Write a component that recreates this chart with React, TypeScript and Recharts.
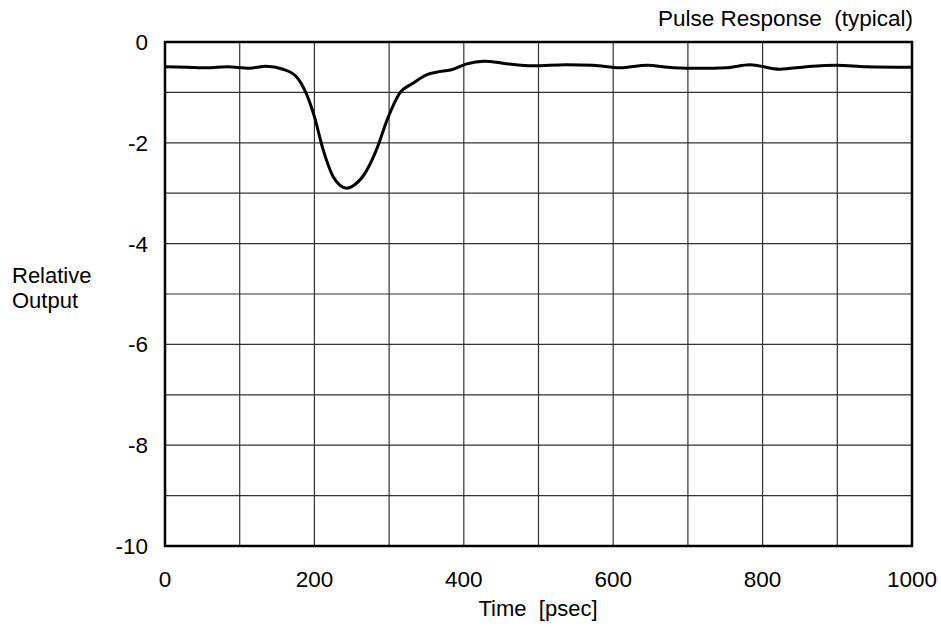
import { LineChart, Line, XAxis, YAxis, CartesianGrid, ReferenceArea } from 'recharts';

const times = [0, 30, 55, 83, 113, 135, 158, 176, 189, 200, 211, 225, 234, 243, 253, 267, 283, 298, 314, 332, 350, 363, 386, 403, 428, 457, 493, 537, 573, 609, 645, 680, 716, 752, 783, 823, 859, 899, 939, 1000];
const output = [-0.49, -0.5, -0.51, -0.49, -0.52, -0.48, -0.54, -0.69, -1.02, -1.48, -2.1, -2.67, -2.84, -2.9, -2.84, -2.62, -2.14, -1.52, -1.02, -0.82, -0.65, -0.6, -0.54, -0.44, -0.38, -0.43, -0.47, -0.45, -0.46, -0.51, -0.46, -0.51, -0.52, -0.51, -0.45, -0.54, -0.49, -0.46, -0.49, -0.5];

const xTicks = [0, 100, 200, 300, 400, 500, 600, 700, 800, 900, 1000];
const yTicks = [0, -1, -2, -3, -4, -5, -6, -7, -8, -9, -10];

const data = times.map((t, i) => ({ t, v: output[i] }));

const font = '"Liberation Sans", Arial, sans-serif';
const textStyle = { position: 'absolute' as const, fontFamily: font, fontSize: 22, color: '#000', lineHeight: '25px', whiteSpace: 'nowrap' as const };

export default function App() {
  return (
    <div style={{ position: 'absolute', left: 0, top: 0, width: 941, height: 628, background: '#fff' }}>
      <LineChart width={941} height={628} data={data} margin={{ top: 42, right: 29, bottom: 52, left: 5 }}>
        <CartesianGrid stroke="#333" strokeWidth={1.2} />
        <XAxis
          dataKey="t"
          type="number"
          domain={[0, 1000]}
          ticks={xTicks}
          interval={0}
          axisLine={false}
          tickLine={false}
          tickMargin={19}
          height={30}
          tickFormatter={(v: number) => (v % 200 === 0 ? String(v) : '')}
          tick={{ fontSize: 22.5, fill: '#000', fontFamily: font }}
        />
        <YAxis
          type="number"
          domain={[-10, 0]}
          ticks={yTicks}
          interval={0}
          width={160}
          axisLine={false}
          tickLine={false}
          tickMargin={11}
          tickFormatter={(v: number) => (v % 2 === 0 ? String(v) : '')}
          tick={{ fontSize: 22.5, fill: '#000', fontFamily: font }}
        />
        <ReferenceArea x1={0} x2={1000} y1={-10} y2={0} fill="none" stroke="#000" strokeWidth={2.5} ifOverflow="visible" />
        <Line type="monotone" dataKey="v" stroke="#000" strokeWidth={3} dot={false} isAnimationActive={false} />
      </LineChart>
      <div style={{ ...textStyle, right: 28, top: 6, fontSize: 22.5 }}>Pulse Response&nbsp;&nbsp;(typical)</div>
      <div style={{ ...textStyle, left: 12, top: 263 }}>Relative<br />Output</div>
      <div style={{ ...textStyle, left: 538, top: 596, transform: 'translateX(-50%)' }}>Time&nbsp;&nbsp;[psec]</div>
    </div>
  );
}
